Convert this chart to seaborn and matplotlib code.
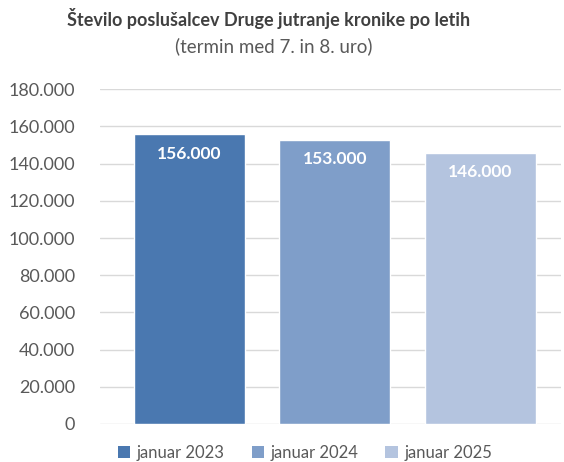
import matplotlib
matplotlib.use("Agg")
import matplotlib.pyplot as plt
import matplotlib.ticker as mticker
from matplotlib.patches import Patch
import seaborn as sns
import pandas as pd

# podatki
obdobja = ["januar 2023", "januar 2024", "januar 2025"]
poslusalci = [156000, 153000, 146000]
barve = ["#4A78B0", "#7F9EC9", "#B4C4DF"]

naslov = "Število poslušalcev Druge jutranje kronike po letih"
podnaslov = "(termin med 7. in 8. uro)"

df = pd.DataFrame({"obdobje": obdobja, "poslusalci": poslusalci})


def pika(v, pos=None):
    return f"{int(round(v)):,}".replace(",", ".")


sns.set_theme(style="white")
plt.rcParams["font.family"] = ["Lato", "DejaVu Sans"]

fig = plt.figure(figsize=(5.64, 4.62), dpi=100)
ax = fig.add_axes([0.1773, 0.0823, 0.8174, 0.7244])

sns.barplot(data=df, x="obdobje", y="poslusalci", hue="obdobje",
            palette=barve, width=0.763, saturation=1, legend=False, ax=ax)

ax.set_ylim(0, 180000)
ax.set_xlim(-0.615, 2.554)
ax.yaxis.set_major_locator(mticker.MultipleLocator(20000))
ax.yaxis.set_major_formatter(mticker.FuncFormatter(pika))
ax.grid(axis="y", color="#d9d9d9", linewidth=1)
ax.set_axisbelow(True)
for s in ax.spines.values():
    s.set_visible(False)
ax.set_xticks([])
ax.set_xlabel("")
ax.set_ylabel("")
ax.tick_params(axis="y", length=0, pad=18, labelsize=13, labelcolor="#595959")

for cont in ax.containers:
    ax.bar_label(cont, labels=[pika(b.get_height()) for b in cont],
                 padding=-20, color="white", fontsize=12.5, fontweight="bold")

fig.text(0.477, 0.961, naslov, ha="center", va="center", fontsize=13,
         fontweight="bold", color="#404040")
fig.text(0.486, 0.900, podnaslov, ha="center", va="center", fontsize=13.5,
         color="#595959")

rocke = [Patch(facecolor=c, edgecolor="none") for c in barve]
fig.legend(rocke, obdobja, loc="center", bbox_to_anchor=(0.541, 0.02),
           ncol=3, frameon=False, fontsize=12, labelcolor="#595959",
           handlelength=0.75, handleheight=0.75, handletextpad=0.4,
           columnspacing=1.6)

fig.savefig("out.png", dpi=100)
